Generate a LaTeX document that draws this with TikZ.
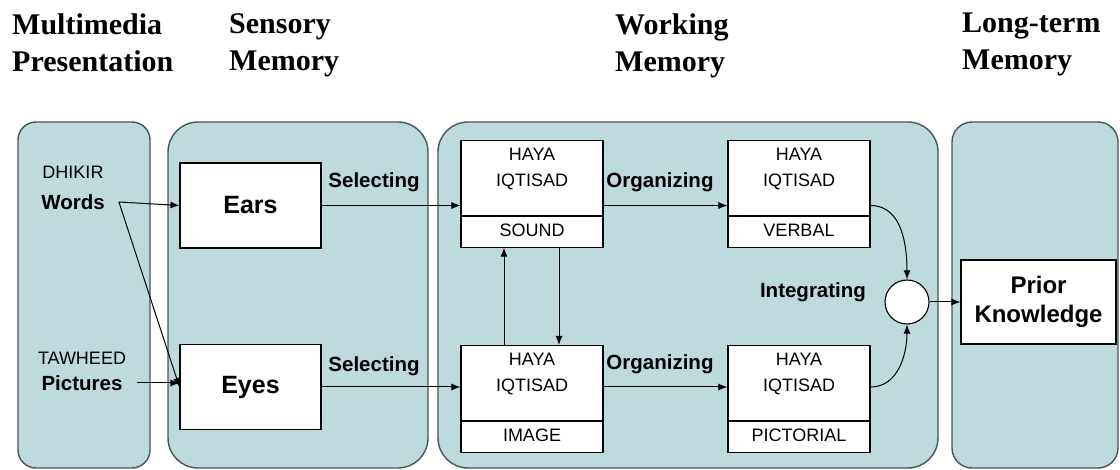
\documentclass[tikz,border=0pt]{standalone}
\usepackage{fontspec}
\setmainfont{Liberation Serif}
\setsansfont{Liberation Sans}
\usepackage{xcolor}
\usetikzlibrary{positioning,shapes.multipart,arrows.meta}

\definecolor{panelfill}{RGB}{189,218,220}
\definecolor{paneledge}{RGB}{72,84,86}

\newcommand{\upperstrut}{\rule[-22pt]{0pt}{0pt}}
\newcommand{\lowerstrut}{\rule[-3pt]{0pt}{16pt}}

\tikzset{
  panel/.style={draw=paneledge, line width=1.4pt, fill=panelfill, rounded corners=#1},
  head/.style={font=\bfseries\fontsize{30}{37}\selectfont, align=left, inner sep=0pt, anchor=north west},
  src/.style={font=\sffamily\bfseries\fontsize{20.5}{24}\selectfont, inner xsep=14pt, inner ysep=2pt},
  srcname/.style={font=\sffamily\fontsize{18}{22}\selectfont, inner sep=0pt},
  sense/.style={draw, fill=white, line width=1.1pt, minimum width=141pt, minimum height=85pt,
    font=\sffamily\bfseries\fontsize{25}{29}\selectfont},
  store/.style={rectangle split, rectangle split parts=2, draw, fill=white, line width=1.1pt,
    text width=128pt, align=center, inner xsep=7pt, inner ysep=7pt,
    font=\sffamily\fontsize{18}{26}\selectfont},
  integ/.style={circle, draw, fill=white, line width=1.1pt, minimum size=44pt, inner sep=0pt},
  lbl/.style={font=\sffamily\bfseries\fontsize{20.5}{24}\selectfont, inner sep=0pt},
  arr/.style={-{Latex[length=9pt,width=7pt]}, line width=1pt}
}

\begin{document}
\begin{tikzpicture}[x=1pt, y=-1pt]
        \useasboundingbox (0,0) rectangle (1120,470);

        % PANELS
        % -----------------

        \node[panel=18pt, minimum width=132pt, minimum height=346pt] (pres_panel) at (84,295) {};
        \node[panel=30pt, minimum width=260pt, minimum height=346pt] (sens_panel) at (298,295) {};
        \node[panel=30pt, minimum width=500pt, minimum height=346pt] (work_panel) at (688,295) {};
        \node[panel=20pt, minimum width=166pt, minimum height=346pt] (long_panel) at (1035,295) {};

        \node[head] (head_pres) at (12,13) {Multimedia\\Presentation};
        \node[head] (head_sens) at (229,13) {Sensory\\Memory};
        \node[head] (head_work) at (615,13) {Working\\Memory};
        \node[head] (head_long) at (962,13) {Long-term\\Memory};

        % NODES
        % -----------------

        \node[src] at (73,202)              (words)    {Words} ; %
        \node[src] at (82,383)              (pictures) {Pictures} ; %
        \node[srcname, above=14pt of words]   (dhikir)  {DHIKIR} ;
        \node[srcname, above=9pt of pictures] (tawheed) {TAWHEED} ;

        \node[sense] at (250.5,205.5) (ears) {Ears} ;
        \node[sense] at (250.5,387)   (eyes) {Eyes} ;

        \node[store, anchor=north] at (532,140) (sound)
          {HAYA\\IQTISAD\upperstrut \nodepart{two} SOUND\lowerstrut} ;
        \node[store, anchor=north] at (532,345) (image)
          {HAYA\\IQTISAD\upperstrut \nodepart{two} IMAGE\lowerstrut} ;
        \node[store, anchor=north] at (799,140) (verbal)
          {HAYA\\IQTISAD\upperstrut \nodepart{two} VERBAL\lowerstrut} ;
        \node[store, anchor=north] at (799,345) (pictorial)
          {HAYA\\IQTISAD\upperstrut \nodepart{two} PICTORIAL\lowerstrut} ;

        \node[integ] at (907,302) (merge) {} ;
        \node[sense, minimum width=155pt, minimum height=84pt, align=center,
          font=\sffamily\bfseries\fontsize{24}{29}\selectfont] at (1038.5,302) (prior) {Prior\\Knowledge} ;

        % labels on the arrows
        \node[lbl] at (374,182) (sel_top) {Selecting} ;
        \node[lbl] at (374,366) (sel_bot) {Selecting} ;
        \node[lbl] at (660,182) (org_top) {Organizing} ;
        \node[lbl] at (660,364) (org_bot) {Organizing} ;
        \node[lbl] at (813,292) (integ_lbl) {Integrating} ;

        % EDGES
        % -----------------

        \draw[arr] (words.east) -- (ears.west);
        \draw[arr] (words.east) -- (eyes.west);
        \draw[arr] (pictures.east) -- (pictures.east -| eyes.west);
        \draw[arr] (ears.east) -- (ears.east -| sound.west);
        \draw[arr] (eyes.east) -- (eyes.east -| image.west);
        \draw[arr] (sound.east |- ears.east) -- (verbal.west |- ears.east);
        \draw[arr] (image.east |- eyes.east) -- (pictorial.west |- eyes.east);
        \draw[arr] ([xshift=-28pt]image.north) -- ([xshift=-28pt]sound.south);
        \draw[arr] ([xshift=27pt]sound.south) -- ([xshift=27pt]image.north);
        \draw[arr] (verbal.east |- ears.east) to[out=0, in=90] (merge.north);
        \draw[arr] (pictorial.east |- eyes.east) to[out=0, in=-90] (merge.south);
        \draw[arr] (merge) -- (prior);

\end{tikzpicture}
\end{document}
